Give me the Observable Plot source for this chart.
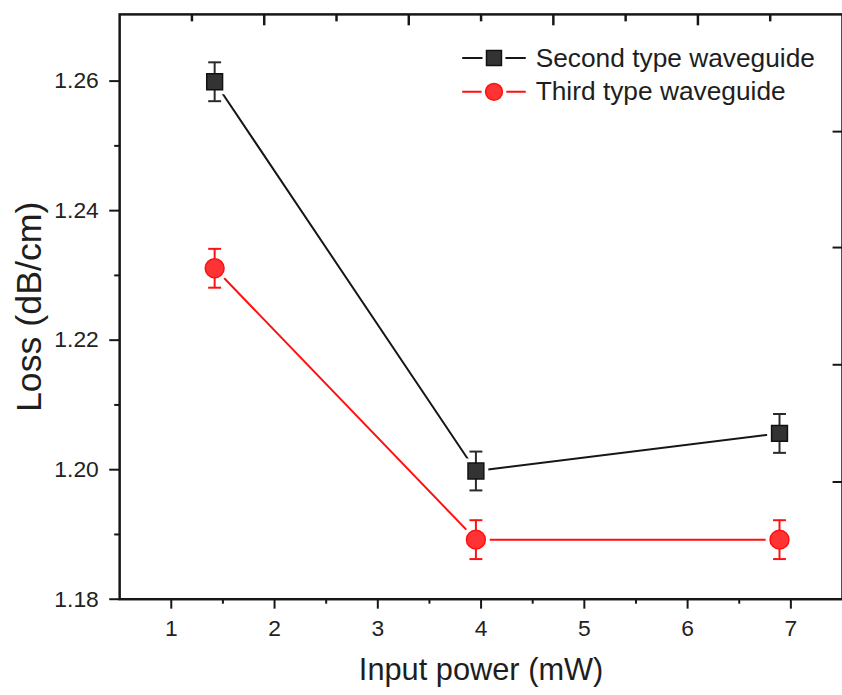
<!DOCTYPE html>
<html><head><meta charset="utf-8">
<script src="https://cdn.jsdelivr.net/npm/d3@7"></script>
<script src="https://cdn.jsdelivr.net/npm/@observablehq/plot@0.6"></script>
<style>
body{margin:0;background:#fff;}
#wrap{position:relative;width:842px;height:695px;overflow:hidden;background:#fff;}
</style></head><body><div id="wrap"></div>
<script>
// ---- data ----
const power = [1.42, 3.95, 6.89];                 // Input power (mW)
const secondLoss = [1.2599, 1.1998, 1.2056];      // Second type waveguide (dB/cm)
const thirdLoss = [1.2311, 1.1892, 1.1892];       // Third type waveguide (dB/cm)
const secondErr = [0.003, 0.003, 0.003];
const thirdErr = [0.003, 0.003, 0.003];
const seriesNames = ["Second type waveguide", "Third type waveguide"];
const xTicks = [1, 2, 3, 4, 5, 6, 7];
const xMinor = [1.5, 2.5, 3.5, 4.5, 5.5, 6.5];
const yTicks = [1.18, 1.20, 1.22, 1.24, 1.26];
const yMinor = [1.19, 1.21, 1.23, 1.25];
const topMajor = [1.9, 3.3, 4.7, 6.1];
const topMinor = [1.2, 2.6, 4.0, 5.4, 6.8];
const rightTicks = [1.1981, 1.2162, 1.2343, 1.2522];
const xDomain = [0.5, 7.5];
const yDomain = [1.18, 1.2703];
const xLabel = "Input power (mW)";
const yLabel = "Loss (dB/cm)";

const rows2 = power.map((x, i) => ({x, y: secondLoss[i], e: secondErr[i]}));
const rows3 = power.map((x, i) => ({x, y: thirdLoss[i], e: thirdErr[i]}));

const FONT = "'Liberation Sans', Arial, Helvetica, sans-serif";
const BLACK = "#161616", RED = "#ff1010";
const SQ_FILL = "#333", SQ_STROKE = "#111", CI_FILL = "#ff3333";

const rOf = size => Math.sqrt(size / Math.PI);
const hLine = {draw(ctx, size) { const r = rOf(size); ctx.moveTo(-r, 0); ctx.lineTo(r, 0); }};
const downTick = {draw(ctx, size) { const r = rOf(size); ctx.moveTo(0, 0); ctx.lineTo(0, r); }};
const leftTick = {draw(ctx, size) { const r = rOf(size); ctx.moveTo(0, 0); ctx.lineTo(-r, 0); }};

function errMarks(rows, color) {
  return [
    Plot.ruleX(rows, {x: "x", y1: d => d.y - d.e, y2: d => d.y + d.e, stroke: color, strokeWidth: 2}),
    Plot.dot(rows, {x: "x", y: d => d.y - d.e, symbol: hLine, r: 6.5, stroke: color, strokeWidth: 2, fill: "none"}),
    Plot.dot(rows, {x: "x", y: d => d.y + d.e, symbol: hLine, r: 6.5, stroke: color, strokeWidth: 2, fill: "none"})
  ];
}
// legend entry, placed relative to the frame's top-left corner
function legendEntry(name, lineColor, symbol, r, fill, stroke, dy) {
  const at = {frameAnchor: "top-left", dx: 377, dy};
  return [
    Plot.dot([name], {...at, symbol: hLine, r: 32, stroke: lineColor, strokeWidth: 2, fill: "none"}),
    Plot.dot([name], {...at, symbol, r, fill: "white", stroke: "white", strokeWidth: 8}),
    Plot.dot([name], {...at, symbol, r, fill, stroke, strokeWidth: 1.5}),
    Plot.text([name], {frameAnchor: "top-left", dx: 419, dy, text: d => d, textAnchor: "start", lineAnchor: "middle", fontSize: 26.5, fill: "#1e1e1e"})
  ];
}
const noLabel = () => "";
const axisStyle = {stroke: BLACK, strokeWidth: 2, fill: "#222"};

const chart = Plot.plot({
  width: 848, height: 695,
  marginLeft: 120, marginRight: 0, marginTop: 14, marginBottom: 92,
  style: {fontFamily: FONT, fontSize: "23px", color: "#222", background: "white"},
  x: {domain: xDomain},
  y: {domain: yDomain},
  marks: [
    Plot.axisX({ticks: xTicks, tickSize: 10, tickPadding: 11, tickFormat: d => String(d), label: null, ...axisStyle}),
    Plot.axisX({ticks: xMinor, tickSize: 5, tickFormat: noLabel, label: null, ...axisStyle}),
    Plot.axisY({ticks: yTicks, tickSize: 10, tickPadding: 11, tickFormat: ".2f", label: null, ...axisStyle}),
    Plot.axisY({ticks: yMinor, tickSize: 5, tickFormat: noLabel, label: null, ...axisStyle}),
    Plot.frame({stroke: BLACK, strokeWidth: 2.5}),
    Plot.dot(topMajor, {x: d => d, y: () => yDomain[1], symbol: downTick, r: 11, stroke: BLACK, strokeWidth: 2.5, fill: "none"}),
    Plot.dot(topMinor, {x: d => d, y: () => yDomain[1], symbol: downTick, r: 7, stroke: BLACK, strokeWidth: 2.5, fill: "none"}),
    Plot.dot(rightTicks, {y: d => d, x: () => xDomain[1], symbol: leftTick, r: 10, stroke: BLACK, strokeWidth: 2, fill: "none"}),
    Plot.text([xLabel], {frameAnchor: "bottom", lineAnchor: "middle", textAnchor: "middle", dy: 71, fontSize: 31, fill: "#1e1e1e", text: d => d}),
    Plot.text([yLabel], {frameAnchor: "left", textAnchor: "middle", lineAnchor: "middle", dx: -91, rotate: -90, fontSize: 36, fill: "#1e1e1e", text: d => d}),
    Plot.line(rows2, {x: "x", y: "y", stroke: BLACK, strokeWidth: 2}),
    Plot.line(rows3, {x: "x", y: "y", stroke: RED, strokeWidth: 2}),
    Plot.dot(rows2, {x: "x", y: "y", symbol: "square", r: 9, fill: "white", stroke: "white", strokeWidth: 9}),
    Plot.dot(rows3, {x: "x", y: "y", symbol: "circle", r: 9.5, fill: "white", stroke: "white", strokeWidth: 9}),
    ...errMarks(rows2, "#2a2a2a"),
    ...errMarks(rows3, RED),
    Plot.dot(rows2, {x: "x", y: "y", symbol: "square", r: 9, fill: SQ_FILL, stroke: SQ_STROKE, strokeWidth: 1.5}),
    Plot.dot(rows3, {x: "x", y: "y", symbol: "circle", r: 9.5, fill: CI_FILL, stroke: RED, strokeWidth: 1.5}),
    ...legendEntry(seriesNames[0], BLACK, "square", 8.5, SQ_FILL, SQ_STROKE, 44),
    ...legendEntry(seriesNames[1], RED, "circle", 8.5, CI_FILL, RED, 78)
  ]
});
document.getElementById("wrap").appendChild(chart);
</script>
</body></html>
